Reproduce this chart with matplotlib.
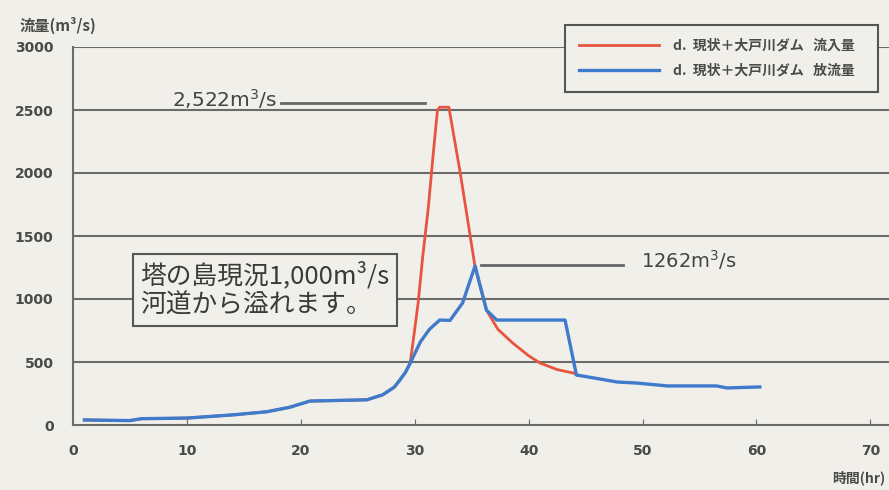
import matplotlib
matplotlib.use("Agg")
import matplotlib.pyplot as plt

plt.rcParams['font.family'] = ['Noto Sans CJK JP', 'DejaVu Sans']

# inflow (red) - hours / m3/s
inflow_t = [1, 5, 6, 10, 14, 17, 19, 20.8, 25.8, 27.2, 28.2, 28.7, 29.2, 29.6, 29.9, 30.3,
            30.7, 31.2, 31.6, 32.0, 32.2, 33.0, 34.0, 35.3, 36.3, 37.3, 38.6, 40.0, 41.0,
            42.5, 43.9, 44.3]
inflow_q = [40, 35, 50, 55, 80, 105, 140, 190, 200, 240, 300, 357, 420, 492, 690, 968,
            1333, 1730, 2127, 2500, 2522, 2522, 2000, 1254, 912, 760, 651, 550, 492,
            440, 413, 395]

# outflow (blue)
outflow_t = [1, 5, 6, 10, 14, 17, 19, 20.8, 25.8, 27.2, 28.2, 28.7, 29.2, 29.6, 30.5, 31.3,
             32.2, 33.1, 34.2, 35.3, 36.3, 37.2, 43.2, 44.2, 47.8, 49.5, 52.2, 56.5,
             57.4, 60.3]
outflow_q = [40, 35, 50, 55, 80, 105, 140, 190, 200, 240, 300, 357, 420, 490, 660, 760,
             833, 830, 968, 1262, 912, 833, 833, 397, 341, 333, 310, 310, 294, 302]

labels = ['d.  現状＋大戸川ダム   流入量   ', 'd.  現状＋大戸川ダム   放流量   ']

bg = '#f1efea'
grid_c = '#6b6b6b'
txt_c = '#4a4a4a'

fig = plt.figure(figsize=(8.89, 4.90), dpi=100, facecolor=bg)
ax = fig.add_axes([73/889, 65/490, (889-73)/889, 378/490])
ax.set_facecolor(bg)

l1, = ax.plot(inflow_t, inflow_q, color='#e8553f', lw=2.0, zorder=3)
l2, = ax.plot(outflow_t, outflow_q, color='#3f7bcc', lw=2.4, zorder=4)

ax.set_xlim(0, (889-73)/11.39)
ax.set_ylim(0, 3000)
ax.set_xticks(range(0, 71, 10))
ax.set_yticks(range(0, 3001, 500))
for y in range(500, 3001, 500):
    ax.axhline(y, color=grid_c, lw=1.5, zorder=1)
for s in ['top', 'right']:
    ax.spines[s].set_visible(False)
for s in ['left', 'bottom']:
    ax.spines[s].set_color(grid_c)
    ax.spines[s].set_linewidth(1.5)
ax.tick_params(axis='both', direction='in', length=4, color=grid_c,
               labelcolor=txt_c, labelsize=10)
ax.tick_params(axis='y', length=0, pad=14)
ax.tick_params(axis='x', pad=14)
for lab in ax.get_xticklabels() + ax.get_yticklabels():
    lab.set_fontweight('bold')
    lab.set_family('DejaVu Sans')

fig.text(20/889, 1-25/490, '流量(m³/s)', color=txt_c, fontsize=11, fontweight='bold',
         va='center', ha='left')
fig.text(885/889, 1-478/490, '時間(hr)', color=txt_c, fontsize=10, fontweight='bold',
         va='center', ha='right')

# peak annotations
ax.text(17.9, 2524, '2,522m$^3$/s', fontsize=14.5, color='#444444', ha='right',
        va='baseline', family='DejaVu Sans')
ax.plot([18.3, 30.9], [2556, 2556], color='#666666', lw=2, zorder=2)
ax.text(49.9, 1246, '1262m$^3$/s', fontsize=14, color='#444444', ha='left',
        va='baseline', family='DejaVu Sans')
ax.plot([35.8, 48.3], [1270, 1270], color='#666666', lw=2, zorder=2)

ax.text(5.9, 1071, '塔の島現況1,000m³/s\n河道から溢れます。', fontsize=18.5, color='#3a3a3a',
        ha='left', va='center', linespacing=1.15, zorder=5,
        bbox=dict(boxstyle='square,pad=0.28', facecolor=bg, edgecolor='#555555', lw=1.5))

leg = ax.legend([l1, l2], labels, loc='upper right',
                bbox_to_anchor=(878/889, 1-25/490), bbox_transform=fig.transFigure,
                fancybox=False, framealpha=1, facecolor=bg, edgecolor='#555555',
                fontsize=10, handlelength=5.8, borderpad=1.0, labelspacing=0.8,
                handletextpad=1.0, borderaxespad=0)
leg.get_frame().set_linewidth(1.5)
for t in leg.get_texts():
    t.set_color(txt_c)
    t.set_fontweight('bold')

fig.savefig('out.png', dpi=100, facecolor=bg)
